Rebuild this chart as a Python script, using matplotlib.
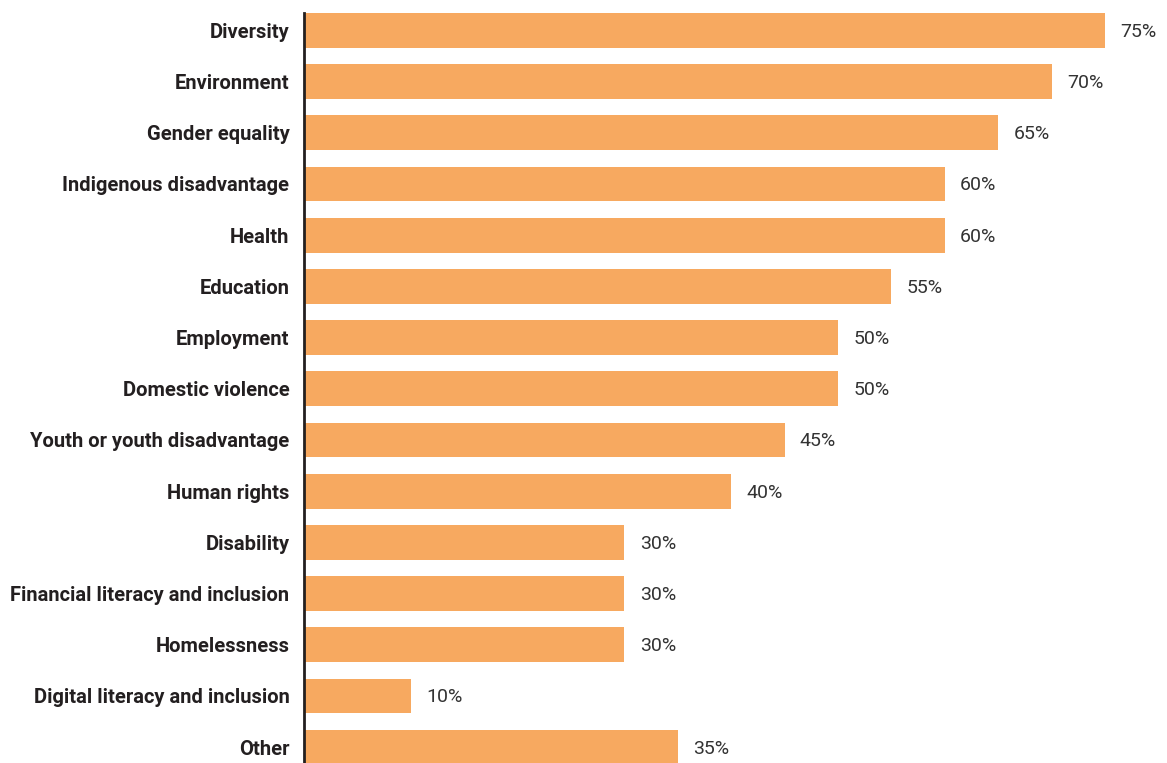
import matplotlib
matplotlib.use("Agg")
import matplotlib.pyplot as plt
import numpy as np

# data
categories = [
    "Diversity",
    "Environment",
    "Gender equality",
    "Indigenous disadvantage",
    "Health",
    "Education",
    "Employment",
    "Domestic violence",
    "Youth or youth disadvantage",
    "Human rights",
    "Disability",
    "Financial literacy and inclusion",
    "Homelessness",
    "Digital literacy and inclusion",
    "Other",
]
values = [75, 70, 65, 60, 60, 55, 50, 50, 45, 40, 30, 30, 30, 10, 35]

BAR_COLOR = "#F7A960"
TEXT_COLOR = "#231F20"

fig = plt.figure(figsize=(11.67, 7.63), dpi=100)
ax = fig.add_axes([304 / 1167, 0, 1 - 304 / 1167, (763 - 13) / 763])

y = np.arange(len(categories))
ax.barh(y, values, height=0.68, color=BAR_COLOR)

# value labels to the right of each bar
for yi, v in zip(y, values):
    ax.annotate(f"{v}%", xy=(v, yi), xytext=(11, -1), textcoords="offset points",
                ha="left", va="center", fontsize=14, color="#333333",
                family="Roboto", clip_on=False)

ax.set_xlim(0, (1167 - 304) / 10.68)
ax.set_ylim(len(categories) - 1 + 0.31, -0.34)

ax.set_yticks(y)
ax.set_yticklabels(categories, fontsize=14.5, fontweight="bold",
                   color=TEXT_COLOR, family="Roboto")
ax.tick_params(axis="y", length=0, pad=10.5)
ax.set_xticks([])

for side in ["top", "right", "bottom"]:
    ax.spines[side].set_visible(False)
ax.spines["left"].set_linewidth(2)
ax.spines["left"].set_color(TEXT_COLOR)

fig.savefig("out.png", dpi=100)
